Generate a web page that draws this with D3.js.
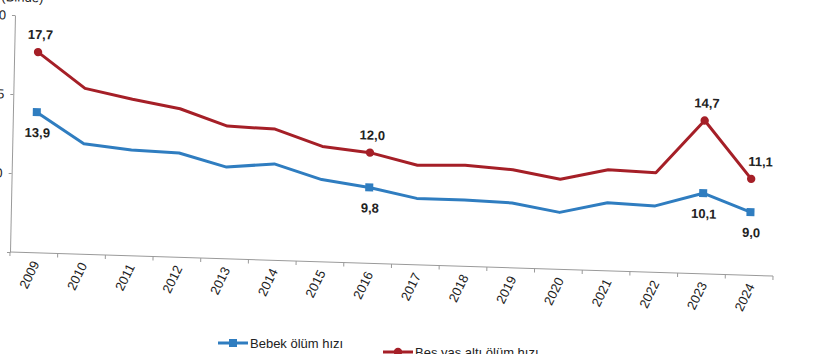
<!DOCTYPE html>
<html>
<head>
<meta charset="utf-8">
<script src="https://cdn.jsdelivr.net/npm/d3@7/dist/d3.min.js"></script>
<style>
  html, body { margin: 0; padding: 0; background: #fff; }
  svg { display: block; font-family: "Liberation Sans", Arial, sans-serif; }
</style>
</head>
<body>
<svg id="chart" width="828" height="354"></svg>
<script>
const years = ["2009","2010","2011","2012","2013","2014","2015","2016","2017","2018","2019","2020","2021","2022","2023","2024"];
const infant = [13.9, 12.0, 11.7, 11.6, 10.8, 11.1, 10.2, 9.8, 9.2, 9.2, 9.1, 8.6, 9.3, 9.2, 10.1, 9.0];
const underFive = [17.7, 15.5, 14.9, 14.4, 13.4, 13.3, 12.3, 12.0, 11.3, 11.4, 11.2, 10.7, 11.4, 11.3, 14.7, 11.1];
const yTicks = [5, 10, 15, 20];
const yTickLabels = ["", "10", "15", "20"];
const labeledYears = ["2009", "2016", "2023", "2024"];
const seriesNames = ["Bebek ölüm hızı", "Beş yaş altı ölüm hızı"];
const unitLabel = "(Binde)";

const blue = "#2f7dc0", red = "#a51f27";
const svg = d3.select("#chart");

// the photographed chart is slightly tilted
const g = svg.append("g")
  .attr("transform", "translate(10,252) matrix(1,0.0315,-0.021,1,0,0) translate(-10,-252)");

const x = d3.scaleBand().domain(years).range([10, 773]);
const bw = x.bandwidth();
const cx = d => x(d) + bw / 2;
const y = d3.scaleLinear().domain([5, 20]).range([252, 15]);

// unit label (cut off at top)
g.append("text").attr("x", 38).attr("y", 1.5).attr("text-anchor", "end")
  .attr("font-size", 13).attr("fill", "#222").text(unitLabel);

// y axis
const ya = g.append("g").attr("transform", "translate(10,0)")
  .call(d3.axisLeft(y).tickValues(yTicks).tickSize(3).tickSizeOuter(0).tickPadding(6)
    .tickFormat((d, i) => yTickLabels[i]));
ya.select(".domain").attr("stroke", "#9a9a9a");
ya.selectAll(".tick line").attr("stroke", "#9a9a9a");
ya.selectAll(".tick text").attr("font-size", 13).attr("fill", "#222").attr("font-family", "Liberation Sans, Arial, sans-serif");

// x axis
const xa = g.append("g").attr("transform", "translate(0,252)");
xa.append("line").attr("x1", 10).attr("x2", x.range()[1]).attr("y1", 0).attr("y2", 0).attr("stroke", "#9a9a9a");
const bounds = years.map(d => x(d)).concat([x.range()[1]]);
xa.selectAll("line.tk").data(bounds).enter().append("line").attr("class", "tk")
  .attr("x1", d => d).attr("x2", d => d).attr("y1", 0).attr("y2", 4).attr("stroke", "#9a9a9a");
xa.selectAll("text").data(years).enter().append("text")
  .attr("transform", d => `translate(${cx(d) + 2},9) rotate(-65)`)
  .attr("text-anchor", "end").attr("dy", "0.35em")
  .attr("font-size", 13).attr("fill", "#222").text(d => d);

// lines
const line = d3.line().x((d, i) => cx(years[i])).y(d => y(d));
g.append("path").datum(underFive).attr("d", line).attr("fill", "none")
  .attr("stroke", red).attr("stroke-width", 3).attr("stroke-linejoin", "round");
g.append("path").datum(infant).attr("d", line).attr("fill", "none")
  .attr("stroke", blue).attr("stroke-width", 3).attr("stroke-linejoin", "round");

// markers at labeled points
const idx = labeledYears.map(yr => years.indexOf(yr));
g.selectAll("circle.m").data(idx).enter().append("circle").attr("class", "m")
  .attr("cx", i => cx(years[i])).attr("cy", i => y(underFive[i])).attr("r", 4.2).attr("fill", red);
g.selectAll("rect.m").data(idx).enter().append("rect").attr("class", "m")
  .attr("x", i => cx(years[i]) - 4).attr("y", i => y(infant[i]) - 4).attr("width", 8).attr("height", 8).attr("fill", blue);

// data labels
const fmt = v => d3.format(".1f")(v).replace(".", ",");
g.selectAll("text.lr").data(idx).enter().append("text").attr("class", "lr")
  .attr("x", (i, k) => cx(years[i]) + (k === idx.length - 1 ? 9 : 2))
  .attr("y", i => y(underFive[i]) - 13)
  .attr("text-anchor", "middle").attr("font-size", 13).attr("font-weight", "bold").attr("fill", "#222")
  .text(i => fmt(underFive[i]));
g.selectAll("text.lb").data(idx).enter().append("text").attr("class", "lb")
  .attr("x", i => cx(years[i]) + 1)
  .attr("y", i => y(infant[i]) + 25)
  .attr("text-anchor", "middle").attr("font-size", 13).attr("font-weight", "bold").attr("fill", "#222")
  .text(i => fmt(infant[i]));

// legend
const leg = [
  {name: seriesNames[0], color: blue, shape: "rect", x: 218, y: 343},
  {name: seriesNames[1], color: red, shape: "circle", x: 383, y: 352}
];
leg.forEach(l => {
  const lg = svg.append("g").attr("transform", `translate(${l.x},${l.y})`);
  lg.append("line").attr("x1", 0).attr("x2", 30).attr("stroke", l.color).attr("stroke-width", 3);
  if (l.shape === "rect") lg.append("rect").attr("x", 11).attr("y", -4).attr("width", 8).attr("height", 8).attr("fill", l.color);
  else lg.append("circle").attr("cx", 15).attr("r", 4.2).attr("fill", l.color);
  lg.append("text").attr("x", 32).attr("y", 0).attr("dy", "0.35em").attr("font-size", 13)
    .attr("fill", "#222").text(l.name);
});
</script>
</body>
</html>
